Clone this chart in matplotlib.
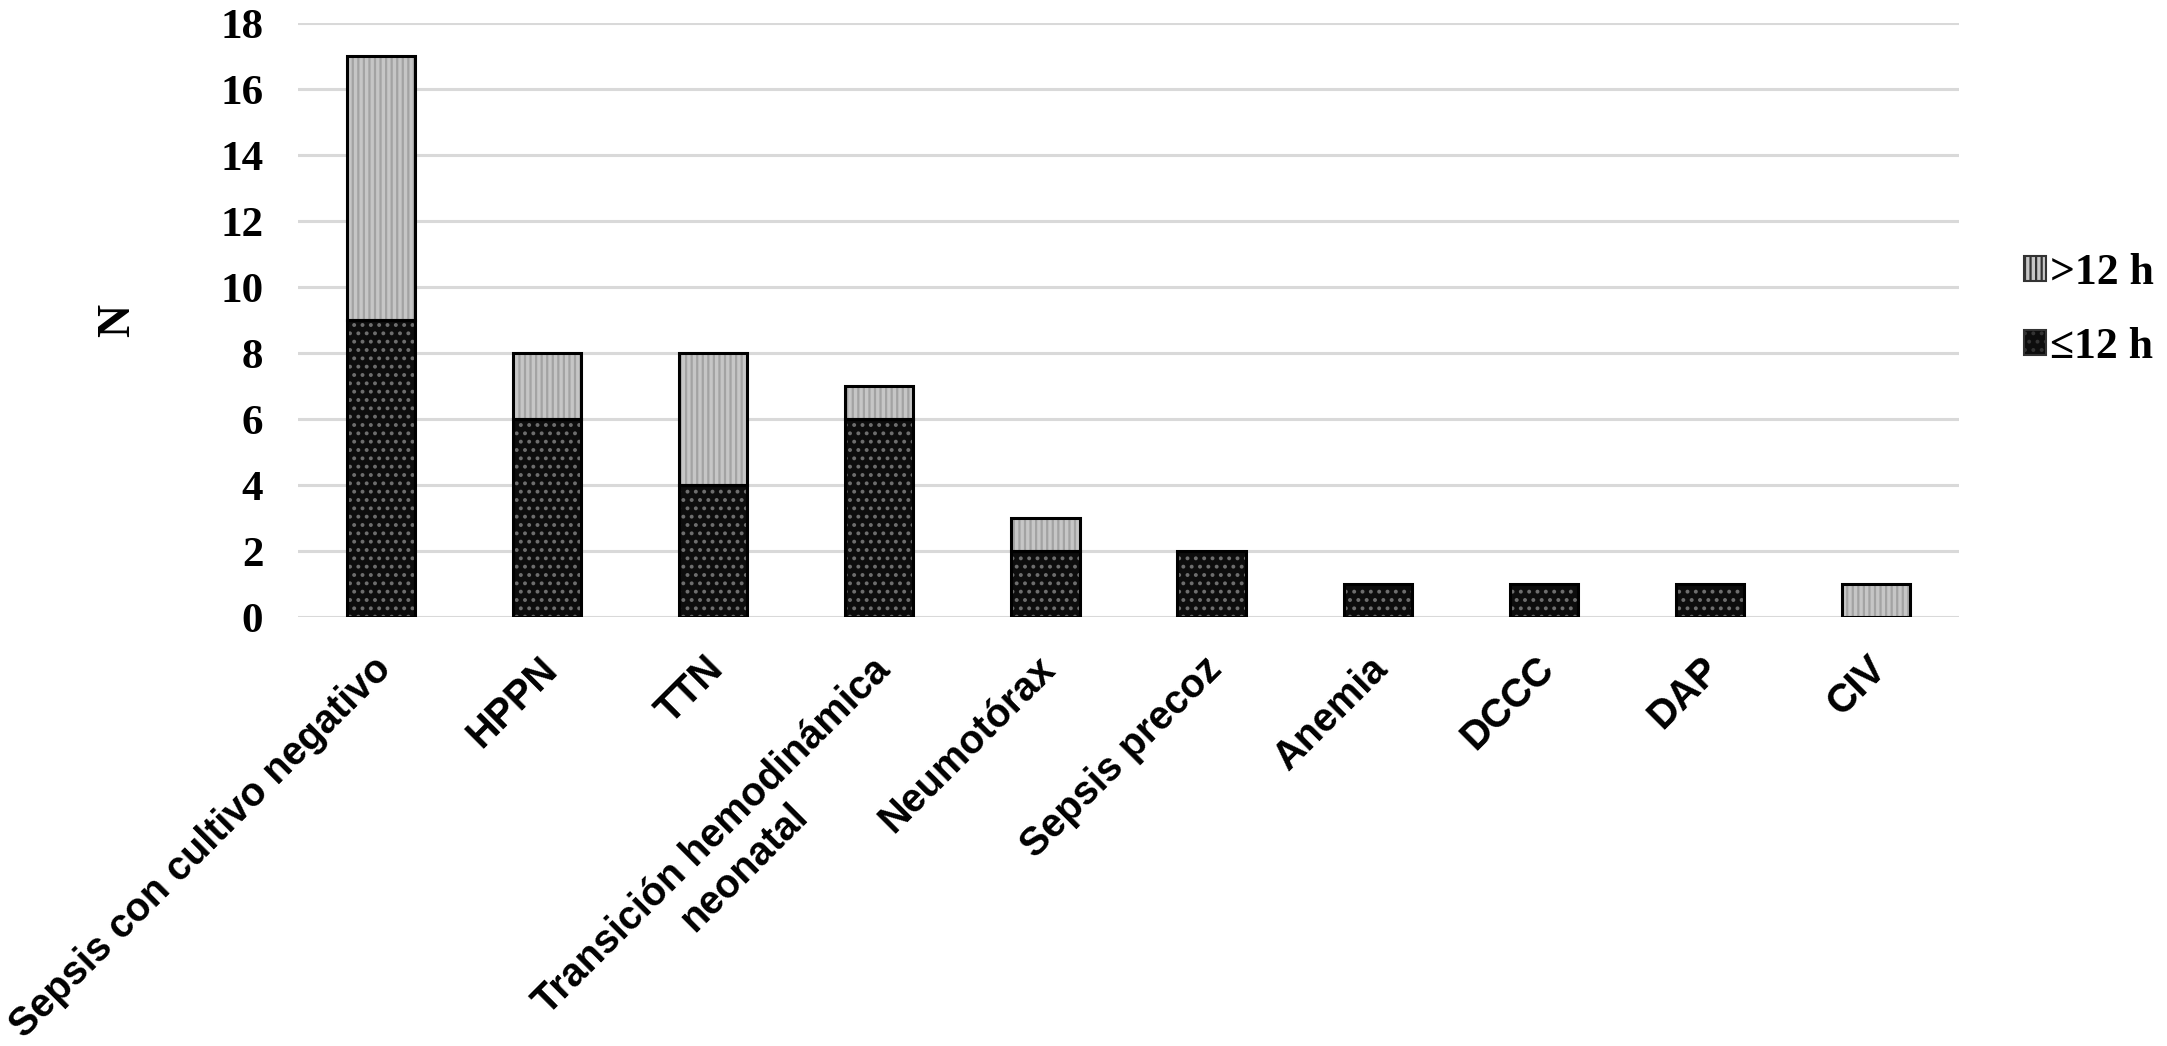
import matplotlib
matplotlib.use("Agg")
import matplotlib.pyplot as plt
import matplotlib.transforms as mtransforms
import numpy as np
from matplotlib.patches import Patch

categories = ["Sepsis con cultivo negativo", "HPPN", "TTN",
              "Transición hemodinámica\nneonatal", "Neumotórax", "Sepsis precoz",
              "Anemia", "DCCC", "DAP", "CIV"]
le12 = [9, 6, 4, 6, 2, 2, 1, 1, 1, 0]
gt12 = [8, 2, 4, 1, 1, 0, 0, 0, 0, 1]
yticks = [0, 2, 4, 6, 8, 10, 12, 14, 16, 18]
legend_labels = [">12 h", "≤12 h"]

plt.rcParams['hatch.linewidth'] = 1.6

W, H, DPI = 2167, 1046, 100
fig = plt.figure(figsize=(W / DPI, H / DPI), dpi=DPI)
ax = fig.add_axes([298 / W, 1 - 617 / H, (1959 - 298) / W, (617 - 23) / H])

x = np.arange(len(categories))
bw = 0.41
le = np.array(le12, dtype=float)
gt = np.array(gt12, dtype=float)

ax.set_axisbelow(True)
ax.yaxis.grid(True, color="#d9d9d9", linewidth=2.2)
ax.xaxis.grid(False)

dark_kw = dict(color="#0d0d0d", edgecolor="#6e6e6e", hatch="..", linewidth=0)
light_kw = dict(color="#c6c6c6", edgecolor="#a3a3a3", hatch="|||", linewidth=0)

# dark segments (≤12 h)
ax.bar(x, le, bw, zorder=2, **dark_kw)
ax.bar(x[le > 0], le[le > 0], bw, fill=False, edgecolor="black", linewidth=2.2, zorder=3)
# light segments (>12 h)
ax.bar(x, gt, bw, bottom=le, zorder=2, **light_kw)
ax.bar(x[gt > 0], gt[gt > 0], bw, bottom=le[gt > 0], fill=False, edgecolor="black",
       linewidth=2.2, zorder=3)

ax.set_xlim(-0.5, len(categories) - 0.5)
ax.set_ylim(0, 18)
ax.set_yticks(yticks)
ax.set_yticklabels([str(v) for v in yticks], fontfamily="Liberation Serif",
                   fontweight="bold", fontsize=31)
ax.tick_params(axis="y", length=0, pad=25)
ax.set_xticks(x)
ax.set_xticklabels([])
ax.tick_params(axis="x", length=0)

# rotated category labels
fs_x = 28.5
line_px = 1.2 * fs_x * DPI / 72.0
for xi, lab in zip(x, categories):
    extra = lab.count("\n") * line_px / 2.0
    dx = 4 + extra * np.sin(np.pi / 4)
    dy = -46 - extra * np.cos(np.pi / 4)
    offset = mtransforms.ScaledTranslation(dx / DPI, dy / DPI, fig.dpi_scale_trans)
    ax.text(xi, 0, lab, transform=ax.get_xaxis_transform() + offset, rotation=45,
            ha="right", va="center", rotation_mode="anchor", multialignment="center",
            fontfamily="Liberation Sans", fontweight="bold", fontsize=fs_x)

for s in ax.spines.values():
    s.set_visible(False)

fig.text(118 / W, 1 - 320 / H, "N", rotation=90, ha="center", va="center",
         fontfamily="Liberation Serif", fontweight="bold", fontsize=33)

handles = [Patch(**{k: v for k, v in light_kw.items() if k != "color"}, facecolor=light_kw["color"]),
           Patch(**{k: v for k, v in dark_kw.items() if k != "color"}, facecolor=dark_kw["color"])]
leg = fig.legend(handles, legend_labels, loc="upper left",
                 bbox_to_anchor=(2024 / W, 1 - 253 / H), frameon=False,
                 prop={"family": "Liberation Serif", "weight": "bold", "size": 31.5},
                 handlelength=0.5, handleheight=0.5, handletextpad=0.1,
                 labelspacing=0.78, borderpad=0, borderaxespad=0)
for p in leg.get_patches():
    p.set_linewidth(1.5)
    p.set_edgecolor("#333333")

fig.savefig("out.png", dpi=DPI)
